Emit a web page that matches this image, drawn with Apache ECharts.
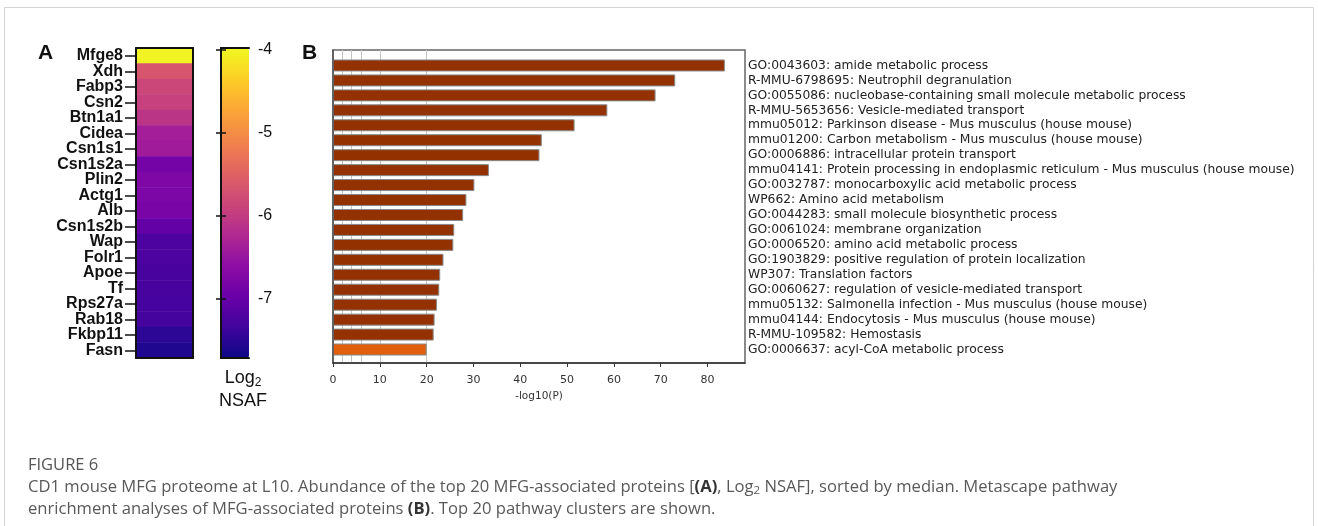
<!DOCTYPE html>
<html>
<head>
<meta charset="utf-8">
<script src="https://cdn.jsdelivr.net/npm/echarts@6/dist/echarts.min.js"></script>
<style>
html,body{margin:0;padding:0;background:#fff;}
#chart{width:1318px;height:526px;}
</style>
</head>
<body>
<div id="chart"></div>
<script>
// ---------- DATA ----------
const proteins = ['Mfge8','Xdh','Fabp3','Csn2','Btn1a1','Cidea','Csn1s1','Csn1s2a','Plin2','Actg1','Alb','Csn1s2b','Wap','Folr1','Apoe','Tf','Rps27a','Rab18','Fkbp11','Fasn'];
const log2NSAF = [-4.03,-5.66,-5.86,-5.93,-6.08,-6.38,-6.42,-6.86,-6.76,-6.78,-6.82,-7.03,-7.24,-7.24,-7.28,-7.28,-7.29,-7.31,-7.50,-7.58];
const colorbarTicks = [-7,-6,-5,-4];
const colorbarMin = -7.72, colorbarMax = -3.98;

const pathways = [
 'GO:0043603: amide metabolic process',
 'R-MMU-6798695: Neutrophil degranulation',
 'GO:0055086: nucleobase-containing small molecule metabolic process',
 'R-MMU-5653656: Vesicle-mediated transport',
 'mmu05012: Parkinson disease - Mus musculus (house mouse)',
 'mmu01200: Carbon metabolism - Mus musculus (house mouse)',
 'GO:0006886: intracellular protein transport',
 'mmu04141: Protein processing in endoplasmic reticulum - Mus musculus (house mouse)',
 'GO:0032787: monocarboxylic acid metabolic process',
 'WP662: Amino acid metabolism',
 'GO:0044283: small molecule biosynthetic process',
 'GO:0061024: membrane organization',
 'GO:0006520: amino acid metabolic process',
 'GO:1903829: positive regulation of protein localization',
 'WP307: Translation factors',
 'GO:0060627: regulation of vesicle-mediated transport',
 'mmu05132: Salmonella infection - Mus musculus (house mouse)',
 'mmu04144: Endocytosis - Mus musculus (house mouse)',
 'R-MMU-109582: Hemostasis',
 'GO:0006637: acyl-CoA metabolic process'
];
const log10P = [83.7,73.1,68.9,58.6,51.6,44.6,44.1,33.3,30.2,28.5,27.8,25.9,25.7,23.6,22.9,22.7,22.2,21.7,21.5,20.0];
const xTicks = [0,10,20,30,40,50,60,70,80];
const xMax = 88;
const gridValues = [2,4,6,10,20];

// ---------- STYLE ----------
const plasma = ['#0d0887','#41049d','#6a00a8','#8f0da4','#b12a90','#cc4778','#e16462','#f2844b','#fca636','#fcce25','#f0f921'];
const darkBar = '#933100', lightBar = '#e05e0c';
const capFont = 'Open Sans';
const capSize = 16.6;

const chart = echarts.init(document.getElementById('chart'), null, {renderer:'canvas'});

const noAxisExtras = {axisTick:{show:false}, axisLabel:{show:false}, splitLine:{show:false}};
const blackLine = {show:true, lineStyle:{color:'#111', width:2}};

const option = {
  animation:false,
  backgroundColor:'#fff',
  grid:[
    {left:136, top:48, width:57, height:310, outerBoundsMode:'none', containLabel:false},
    {left:221, top:48, width:28, height:310, outerBoundsMode:'none', containLabel:false},
    {left:333, top:50, width:412, height:313, show:true, borderColor:'#666', borderWidth:1.5, backgroundColor:'transparent', outerBoundsMode:'none', containLabel:false},
    {left:333, top:58, width:412, height:299, outerBoundsMode:'none', containLabel:false}
  ],
  xAxis:[
    Object.assign({gridIndex:0, type:'category', data:[''], position:'bottom', axisLine:blackLine, z:10}, noAxisExtras),
    Object.assign({gridIndex:0, type:'category', data:[''], position:'top', axisLine:blackLine, z:10}, noAxisExtras),
    Object.assign({gridIndex:1, type:'value', min:0, max:1, position:'bottom', axisLine:blackLine, z:10}, noAxisExtras),
    Object.assign({gridIndex:1, type:'value', min:0, max:1, position:'top', axisLine:blackLine, z:10}, noAxisExtras),
    {gridIndex:2, type:'value', min:0, max:xMax, position:'bottom', z:10,
     axisLine:{show:true, onZero:false, lineStyle:{color:'#333', width:1.5}},
     axisTick:{show:true, customValues:xTicks, length:4, lineStyle:{color:'#333'}},
     axisLabel:{show:true, customValues:xTicks, margin:12, fontSize:11, fontFamily:'DejaVu Sans', color:'#333'},
     splitLine:{show:false},
     name:'-log10(P)', nameLocation:'middle', nameGap:28,
     nameTextStyle:{fontSize:10.5, fontFamily:'DejaVu Sans', color:'#333'}},
    {gridIndex:3, type:'value', min:0, max:xMax, show:false}
  ],
  yAxis:[
    {gridIndex:0, type:'category', data:proteins, inverse:true, position:'left', z:10,
     axisLine:blackLine,
     axisTick:{show:true, alignWithLabel:true, length:11, lineStyle:{color:'#111', width:1.5}},
     axisLabel:{show:true, interval:0, margin:13, fontSize:16, fontWeight:'bold', fontFamily:'Liberation Sans', color:'#111'},
     splitLine:{show:false}},
    Object.assign({gridIndex:0, type:'category', data:proteins, inverse:true, position:'right', axisLine:blackLine, z:10}, noAxisExtras),
    {gridIndex:1, type:'value', min:colorbarMin, max:colorbarMax, position:'left', z:10,
     axisLine:blackLine,
     axisTick:{show:true, inside:true, customValues:colorbarTicks, length:5, lineStyle:{color:'#111', width:1.5}},
     axisLabel:{show:false}, splitLine:{show:false}},
    {gridIndex:1, type:'value', min:colorbarMin, max:colorbarMax, position:'right', z:10,
     axisLine:blackLine,
     axisTick:{show:true, inside:true, customValues:colorbarTicks, length:5, lineStyle:{color:'#111', width:1.5}},
     axisLabel:{show:true, customValues:colorbarTicks, margin:9, fontSize:16, fontFamily:'Liberation Sans', color:'#111'},
     splitLine:{show:false}},
    {gridIndex:2, type:'value', min:0, max:1, position:'left', z:10,
     axisLine:{show:true, onZero:false, lineStyle:{color:'#555', width:1.5}},
     axisTick:{show:false}, axisLabel:{show:false}, splitLine:{show:false}},
    {gridIndex:3, type:'category', data:pathways, inverse:true, position:'right',
     axisLine:{show:false}, axisTick:{show:false},
     axisLabel:{show:true, interval:0, margin:3, fontSize:12.3, fontFamily:'DejaVu Sans', color:'#222'},
     splitLine:{show:false}}
  ],
  visualMap:[{
    type:'continuous', seriesIndex:0, min:colorbarMin, max:colorbarMax,
    inRange:{color:plasma}, calculable:false, hoverLink:false,
    left:221, top:48, itemWidth:28, itemHeight:310, padding:0, orient:'vertical'
  }],
  series:[
    {type:'heatmap', xAxisIndex:0, yAxisIndex:0,
     data:proteins.map((p,i)=>[0,i,log2NSAF[i]]),
     itemStyle:{borderWidth:0}},
    {type:'line', xAxisIndex:4, yAxisIndex:4, data:[], silent:true,
     markLine:{silent:true, z:1, symbol:'none', label:{show:false},
       lineStyle:{color:'#c4c4c4', type:'solid', width:1},
       data:gridValues.map(v=>({xAxis:v}))}},
    {type:'bar', xAxisIndex:5, yAxisIndex:5, z:3, barWidth:12,
     data:log10P,
     itemStyle:{color:(p)=> p.value < 21 ? lightBar : darkBar, borderColor:'#8a8a8a', borderWidth:1}}
  ],
  graphic:[
    {type:'rect', silent:true, z:0, shape:{x:4.5, y:7.5, width:1309, height:560},
     style:{fill:'none', stroke:'#d3d3d3', lineWidth:1}},
    {type:'text', silent:true, style:{x:38, y:53, text:'A', font:'bold 21px "Liberation Sans"', fill:'#111', verticalAlign:'middle'}},
    {type:'text', silent:true, style:{x:302, y:53, text:'B', font:'bold 21px "Liberation Sans"', fill:'#111', verticalAlign:'middle'}},
    {type:'text', silent:true, style:{x:243, y:378, text:'Log{s|2}', align:'center', verticalAlign:'middle',
      fontSize:18, fontFamily:'Liberation Sans', fill:'#111',
      rich:{s:{fontSize:12, fontFamily:'Liberation Sans', fill:'#111', padding:[9,0,0,0]}}}},
    {type:'text', silent:true, style:{x:243, y:401, text:'NSAF', align:'center', verticalAlign:'middle',
      fontSize:18, fontFamily:'Liberation Sans', fill:'#111'}},
    {type:'text', silent:true, style:{x:28, y:465, text:'FIGURE 6', verticalAlign:'middle',
      fontSize:16.5, fontFamily:capFont, fill:'#555'}},
    {type:'text', silent:true, style:{x:28, y:487,
      text:'CD1 mouse MFG proteome at L10. Abundance of the top 20 MFG-associated proteins [{b|(A)}, Log{s|2} NSAF], sorted by median. Metascape pathway',
      verticalAlign:'middle', fontSize:capSize, fontFamily:capFont, fill:'#595959',
      rich:{b:{fontSize:capSize, fontFamily:capFont, fontWeight:'bold', fill:'#333'},
            s:{fontSize:11.5, fontFamily:capFont, fill:'#595959', padding:[8,0,0,0]}}}},
    {type:'text', silent:true, style:{x:28, y:509,
      text:'enrichment analyses of MFG-associated proteins {b|(B)}. Top 20 pathway clusters are shown.',
      verticalAlign:'middle', fontSize:capSize, fontFamily:capFont, fill:'#595959',
      rich:{b:{fontSize:capSize, fontFamily:capFont, fontWeight:'bold', fill:'#333'}}}}
  ]
};
chart.setOption(option);
</script>
</body>
</html>
